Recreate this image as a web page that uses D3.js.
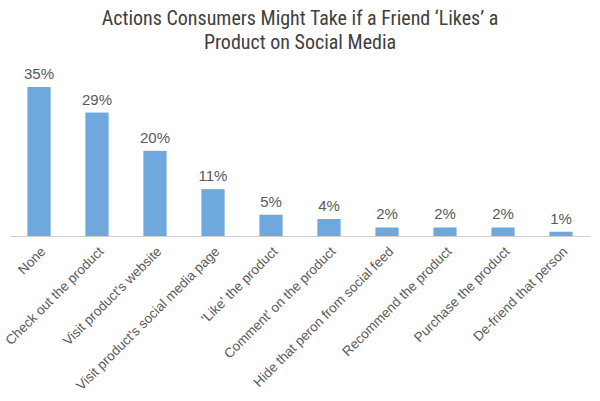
<!DOCTYPE html>
<html><head><meta charset="utf-8">
<script src="https://cdn.jsdelivr.net/npm/d3@7"></script>
<style>body{margin:0;background:#fff}</style>
</head><body>
<svg id="c" width="600" height="401"></svg>
<script>
const categories = ["None","Check out the product","Visit product's website","Visit product's social media page","'Like' the product","Comment' on the product","Hide that peron from social feed","Recommend the product","Purchase the product","De-friend that person"];
const values = [35,29,20,11,5,4,2,2,2,1];
const titleLines = ["Actions Consumers Might Take if a Friend \u2018Likes\u2019 a","Product on Social Media"];

const svg = d3.select("#c");
const left = 10, right = 590, base = 236;
const x = d3.scaleBand().domain(categories).range([left,right]).paddingInner(0.6).paddingOuter(0.3);
const y = d3.scaleLinear().domain([0,35]).range([base,87]);

svg.append("g").selectAll("text").data(titleLines).join("text")
  .attr("x",300).attr("y",(d,i)=>25+i*24).attr("text-anchor","middle")
  .attr("font-family","'Liberation Sans Narrow','Roboto Condensed',Arial,sans-serif")
  .attr("font-size",20).attr("fill","#404040").text(d=>d);

svg.append("g").selectAll("rect").data(values).join("rect")
  .attr("x",(d,i)=>x(categories[i])).attr("width",x.bandwidth())
  .attr("y",d=>y(d)).attr("height",d=>base-y(d)).attr("fill","#6fa8dc");

const axis = svg.append("g").attr("transform",`translate(0,${base})`)
  .call(d3.axisBottom(x).tickSize(0).tickSizeOuter(0));
axis.select(".domain").attr("stroke","#d0d0d0");
axis.selectAll("text").attr("font-family","'Liberation Sans',Arial,sans-serif")
  .attr("font-size",13.5).attr("fill","#595959")
  .attr("text-anchor","end").attr("dy","0.35em")
  .attr("transform","translate(4,13) rotate(-45)").attr("y",0).attr("x",0);

svg.append("g").selectAll("text").data(values).join("text")
  .attr("x",(d,i)=>x(categories[i])+x.bandwidth()/2).attr("y",d=>y(d)-8)
  .attr("text-anchor","middle").attr("font-family","'Liberation Sans',Arial,sans-serif")
  .attr("font-size",15).attr("fill","#595959").text(d=>d+"%");
</script>
</body></html>
